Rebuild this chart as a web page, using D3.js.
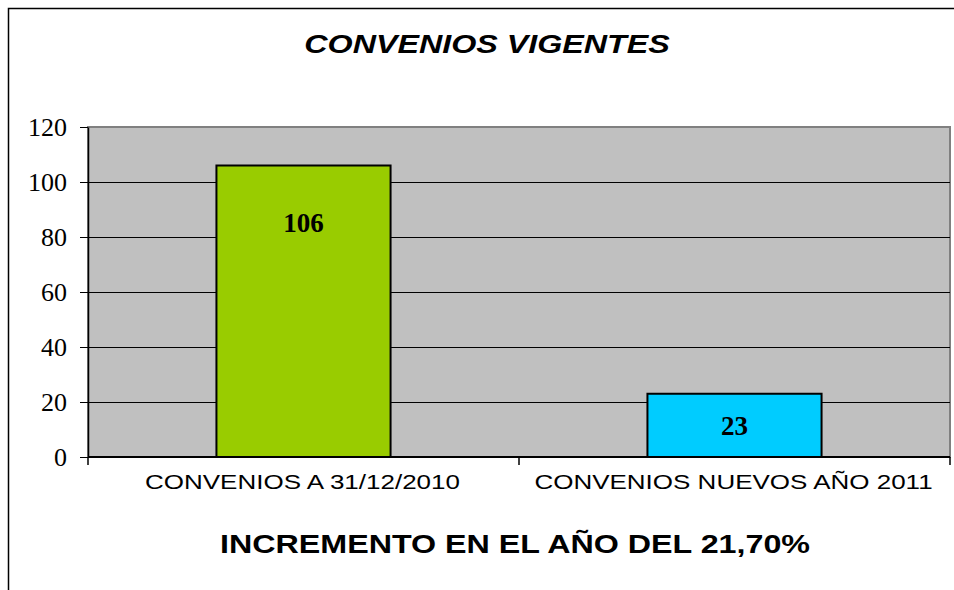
<!DOCTYPE html>
<html>
<head>
<meta charset="utf-8">
<script src="https://cdn.jsdelivr.net/npm/d3@7"></script>
<style>
  body { margin: 0; background: #fff; }
</style>
</head>
<body>
<div id="chart"></div>
<script>
// datos del grafico
var categories = ["CONVENIOS A 31/12/2010", "CONVENIOS NUEVOS AÑO 2011"];
var values = [106, 23];
var barColors = ["#99cc00", "#00ccff"];
var yTicks = [0, 20, 40, 60, 80, 100, 120];
var chartTitle = "CONVENIOS VIGENTES";
var footerText = "INCREMENTO EN EL AÑO DEL 21,70%";

var width = 954, height = 590;
var plot = {left: 88, right: 950, top: 127, bottom: 457};
var sansFont = "'Liberation Sans', Arial, sans-serif";
var serifFont = "'Liberation Serif', 'Times New Roman', serif";
var stretch = 1.29; // el texto del original esta ensanchado

var svg = d3.select("#chart").append("svg")
    .attr("width", width)
    .attr("height", height);

// marco exterior
svg.append("rect")
    .attr("x", 8.5).attr("y", 8.5)
    .attr("width", 980).attr("height", 620)
    .attr("fill", "none")
    .attr("stroke", "#000")
    .attr("stroke-width", 1.5);

var x = d3.scaleBand()
    .domain(categories)
    .range([plot.left, plot.right])
    .paddingInner(0.596)
    .paddingOuter(0.298);

var y = d3.scaleLinear()
    .domain([0, 120])
    .range([plot.bottom, plot.top]);

// area de trazado
svg.append("rect")
    .attr("x", plot.left).attr("y", plot.top)
    .attr("width", plot.right - plot.left)
    .attr("height", plot.bottom - plot.top)
    .attr("fill", "#c0c0c0")
    .attr("stroke", "#808080")
    .attr("stroke-width", 2);

// lineas de division
svg.append("g")
    .selectAll("line")
    .data(yTicks.filter(d => d > 0 && d < 120))
    .join("line")
    .attr("x1", plot.left).attr("x2", plot.right)
    .attr("y1", d => Math.round(y(d)) + 0.5)
    .attr("y2", d => Math.round(y(d)) + 0.5)
    .attr("stroke", "#000")
    .attr("stroke-width", 1);

// barras
svg.append("g")
    .selectAll("rect")
    .data(values)
    .join("rect")
    .attr("x", (d, i) => x(categories[i]))
    .attr("y", d => y(d))
    .attr("width", x.bandwidth())
    .attr("height", d => y(0) - y(d))
    .attr("fill", (d, i) => barColors[i])
    .attr("stroke", "#000")
    .attr("stroke-width", 2);

// etiquetas de datos
svg.append("g")
    .selectAll("text")
    .data(values)
    .join("text")
    .attr("x", (d, i) => x(categories[i]) + x.bandwidth() / 2)
    .attr("y", d => Math.min(y(d) + 66, (y(d) + y(0)) / 2 + 10))
    .attr("text-anchor", "middle")
    .style("font-family", serifFont)
    .style("font-weight", "bold")
    .style("font-size", "27px")
    .text(d => d);

// eje Y
var yAxis = d3.axisLeft(y)
    .tickValues(yTicks)
    .tickSize(8)
    .tickSizeOuter(0)
    .tickPadding(13);
var gy = svg.append("g")
    .attr("transform", `translate(${plot.left},0)`)
    .call(yAxis);
gy.select(".domain").attr("stroke", "#000").attr("stroke-width", 1.5);
gy.selectAll("text")
    .style("font-family", serifFont)
    .style("font-size", "26px")
    .attr("fill", "#000");

// eje X (marcas entre categorias)
var step = x.step();
var bounds = d3.range(categories.length + 1).map(i => plot.left + i * step);
svg.append("line")
    .attr("x1", plot.left).attr("x2", plot.right)
    .attr("y1", plot.bottom).attr("y2", plot.bottom)
    .attr("stroke", "#000")
    .attr("stroke-width", 2);
svg.append("g")
    .selectAll("line")
    .data(bounds)
    .join("line")
    .attr("x1", d => d).attr("x2", d => d)
    .attr("y1", plot.bottom).attr("y2", plot.bottom + 8)
    .attr("stroke", "#000")
    .attr("stroke-width", 1.5);

svg.append("g")
    .selectAll("text")
    .data(categories)
    .join("text")
    .attr("transform", d => `translate(${x(d) + x.bandwidth() / 2 - 1},489) scale(1.3,1)`)
    .attr("text-anchor", "middle")
    .style("font-family", sansFont)
    .style("font-size", "20px")
    .text(d => d);

// titulo
svg.append("text")
    .attr("transform", `translate(487,53) scale(${stretch},1)`)
    .attr("text-anchor", "middle")
    .style("font-family", sansFont)
    .style("font-weight", "bold")
    .style("font-style", "italic")
    .style("font-size", "25px")
    .text(chartTitle);

// texto inferior
svg.append("text")
    .attr("transform", `translate(515,553) scale(${stretch},1)`)
    .attr("text-anchor", "middle")
    .style("font-family", sansFont)
    .style("font-weight", "bold")
    .style("font-size", "25px")
    .text(footerText);
</script>
</body>
</html>
